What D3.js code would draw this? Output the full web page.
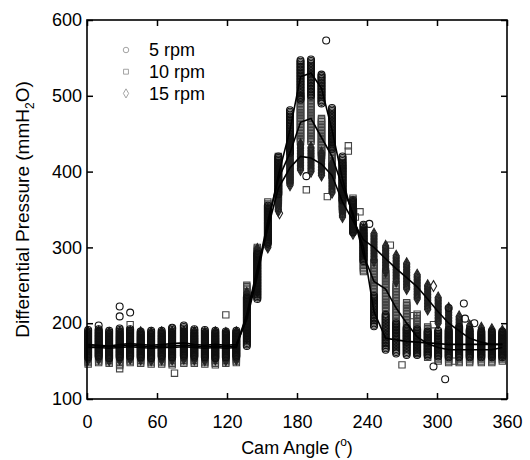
<!DOCTYPE html>
<html>
<head>
<meta charset="utf-8">
<script src="https://cdn.jsdelivr.net/npm/d3@7"></script>
<style>
    body { margin: 0; background: #fff; }
    text { font-family: "Liberation Sans", Arial, sans-serif; }
</style>
</head>
<body>
<div id="chart"></div>
<script>

// cam angle of each measurement column (deg)
const angles = [1, 10, 19, 28, 37, 46, 55, 64, 73, 83, 92, 101, 110, 119, 128, 137, 146, 155, 164, 174,
    183, 192, 201, 210, 219, 228, 237, 246, 256, 265, 274, 283, 292, 301, 310, 319, 328, 338, 347, 356];

// 5 rpm: mean line, and lowest / highest reading in each column
const rpm5Mean = [172, 171, 170, 172, 173, 172, 171, 172, 173, 174, 172, 171, 172, 171, 172, 205, 262, 330, 395, 455,
    525, 530, 510, 455, 390, 340, 300, 215, 180, 178, 176, 175, 174, 173, 172, 172, 172, 172, 172, 172];
const rpm5Low = [155, 156, 154, 155, 156, 155, 154, 156, 155, 157, 156, 155, 154, 155, 156, 170, 232, 305, 370, 425,
    495, 500, 490, 430, 362, 320, 282, 196, 165, 160, 158, 158, 157, 156, 155, 155, 155, 155, 155, 155];
const rpm5High = [192, 192, 190, 193, 193, 190, 191, 190, 194, 197, 192, 191, 190, 190, 190, 235, 292, 355, 420, 482,
    548, 548, 528, 485, 420, 362, 330, 236, 212, 200, 195, 192, 190, 190, 192, 195, 192, 190, 190, 190];

// 10 rpm
const rpm10Mean = [168, 168, 167, 168, 169, 168, 167, 168, 168, 169, 168, 167, 168, 167, 168, 210, 268, 335, 390, 425,
    465, 470, 445, 420, 380, 345, 290, 255, 245, 220, 200, 182, 173, 168, 165, 165, 165, 165, 165, 168];
const rpm10Low = [146, 148, 147, 144, 148, 147, 146, 146, 145, 147, 147, 146, 145, 147, 148, 178, 236, 310, 360, 388,
    440, 440, 420, 395, 350, 325, 268, 230, 215, 190, 175, 160, 155, 150, 148, 148, 148, 148, 148, 150];
const rpm10High = [184, 188, 184, 185, 190, 184, 183, 184, 185, 186, 184, 183, 184, 183, 186, 250, 300, 360, 420, 455,
    500, 500, 470, 455, 410, 365, 320, 280, 268, 250, 228, 212, 196, 186, 186, 184, 182, 182, 182, 185];

// 15 rpm
const rpm15Mean = [170, 170, 169, 170, 171, 170, 169, 170, 170, 171, 170, 169, 170, 169, 170, 212, 272, 325, 378, 405,
    420, 418, 410, 395, 360, 335, 310, 300, 285, 272, 260, 248, 232, 215, 200, 190, 180, 175, 172, 172];
const rpm15Low = [152, 153, 151, 152, 153, 152, 151, 152, 152, 153, 152, 151, 152, 151, 152, 182, 242, 300, 348, 382,
    402, 400, 395, 372, 340, 318, 292, 282, 268, 255, 245, 232, 218, 200, 186, 175, 165, 160, 158, 158];
const rpm15High = [188, 189, 187, 188, 190, 188, 187, 188, 188, 190, 188, 187, 188, 187, 188, 240, 298, 350, 405, 440,
    436, 432, 425, 410, 385, 360, 325, 318, 302, 290, 280, 265, 250, 235, 220, 210, 198, 195, 192, 190];

// stray readings outside the columns [angle, pressure]
const rpm5Stray = [[28, 222], [28, 209], [37, 214], [10, 197], [73, 194], [205, 573], [188, 394], [242, 331],
    [323, 226], [324, 206], [307, 126], [297, 143], [332, 200], [310, 220]];
const rpm10Stray = [[119, 211], [75, 134], [37, 198], [28, 140], [188, 376], [206, 367], [224, 434], [224, 427],
    [234, 347], [230, 340], [260, 303], [280, 210], [270, 145], [297, 198], [315, 150]];
const rpm15Stray = [[297, 249], [165, 345], [219, 360]];

const xTicks = [0, 60, 120, 180, 240, 300, 360];
const yTicks = [100, 200, 300, 400, 500, 600];

let series = [
    {name: "5 rpm", mean: rpm5Mean, low: rpm5Low, high: rpm5High, stray: rpm5Stray, symbol: d3.symbolCircle, size: 38, color: "#111"},
    {name: "10 rpm", mean: rpm10Mean, low: rpm10Low, high: rpm10High, stray: rpm10Stray, symbol: d3.symbolSquare, size: 40, color: "#444"},
    {name: "15 rpm", mean: rpm15Mean, low: rpm15Low, high: rpm15High, stray: rpm15Stray, symbol: d3.symbolDiamond, size: 34, color: "#222"}
];

let width = 530, height = 460;
let margin = {left: 87, right: 23, top: 20, bottom: 61};

let svg = d3.select("#chart")
    .append("svg")
    .attr("width", width)
    .attr("height", height);

let xScale = d3.scaleLinear().domain([0, 360]).range([margin.left, width - margin.right]);
let yScale = d3.scaleLinear().domain([100, 600]).range([height - margin.bottom, margin.top]);

// each column holds many repeated readings; draw them stacked from low to high
let drawOrder = [series[1], series[2], series[0]];
drawOrder.forEach(s => {
    let pts = [];
    angles.forEach((a, i) => {
        for (let v = s.low[i]; v <= s.high[i]; v += 2) pts.push([a, v]);
    });
    s.stray.forEach(p => pts.push(p));

    svg.append("g")
        .selectAll("path")
        .data(pts)
        .enter()
        .append("path")
        .attr("d", d3.symbol().type(s.symbol).size(s.size))
        .attr("transform", d => `translate(${xScale(d[0])},${yScale(d[1])})`)
        .attr("fill", "none")
        .attr("stroke", s.color)
        .attr("stroke-width", 1.1);
});

// mean lines
let line = d3.line()
    .x((d, i) => xScale(angles[i]))
    .y(d => yScale(d));

series.forEach(s => {
    svg.append("path")
        .datum(s.mean)
        .attr("d", line)
        .attr("fill", "none")
        .attr("stroke", "#000")
        .attr("stroke-width", 1.6);
});

// axes, ticks pointing inward on all four sides
let plotH = height - margin.bottom;
let plotW = width - margin.right;

svg.append("g")
    .attr("transform", `translate(0,${plotH})`)
    .call(d3.axisBottom(xScale).tickValues(xTicks).tickSizeInner(-6).tickSizeOuter(0).tickPadding(16))
    .call(g => g.select(".domain").remove());

svg.append("g")
    .attr("transform", `translate(0,${margin.top})`)
    .call(d3.axisTop(xScale).tickValues(xTicks).tickSizeInner(-6).tickSizeOuter(0).tickFormat(""))
    .call(g => g.select(".domain").remove());

svg.append("g")
    .attr("transform", `translate(${margin.left},0)`)
    .call(d3.axisLeft(yScale).tickValues(yTicks).tickSizeInner(-6).tickSizeOuter(0).tickPadding(5))
    .call(g => g.select(".domain").remove());

svg.append("g")
    .attr("transform", `translate(${plotW},0)`)
    .call(d3.axisRight(yScale).tickValues(yTicks).tickSizeInner(-6).tickSizeOuter(0).tickFormat(""))
    .call(g => g.select(".domain").remove());

svg.selectAll(".tick line").attr("stroke", "#000").attr("stroke-width", 1.5);
svg.selectAll(".tick text")
    .attr("fill", "#000")
    .style("font-size", "18px")
    .style("font-family", "'Liberation Sans', Arial, sans-serif");

svg.append("rect")
    .attr("x", margin.left)
    .attr("y", margin.top)
    .attr("width", plotW - margin.left)
    .attr("height", plotH - margin.top)
    .attr("fill", "none")
    .attr("stroke", "#000")
    .attr("stroke-width", 1.6);

// axis titles
let xTitle = svg.append("text")
    .attr("x", (margin.left + plotW) / 2)
    .attr("y", 454)
    .attr("text-anchor", "middle")
    .style("font-size", "18px");
xTitle.append("tspan").text("Cam Angle (");
xTitle.append("tspan").attr("dy", -8).style("font-size", "12px").text("o");
xTitle.append("tspan").attr("dy", 8).text(")");

let yTitle = svg.append("text")
    .attr("transform", `translate(29,${(margin.top + plotH) / 2}) rotate(-90)`)
    .attr("text-anchor", "middle")
    .style("font-size", "19px");
yTitle.append("tspan").text("Differential Pressure (mmH");
yTitle.append("tspan").attr("dy", 5).style("font-size", "12px").text("2");
yTitle.append("tspan").attr("dy", -5).text("O)");

// legend
let legend = svg.append("g");
series.forEach((s, i) => {
    let ly = 50 + i * 21.7;
    legend.append("path")
        .attr("d", d3.symbol().type(s.symbol).size(24))
        .attr("transform", `translate(126,${ly})`)
        .attr("fill", "none")
        .attr("stroke", "#999")
        .attr("stroke-width", 0.9);
    legend.append("text")
        .attr("x", 149)
        .attr("y", ly)
        .attr("dy", "0.36em")
        .style("font-size", "18px")
        .text(s.name);
});

</script>
</body>
</html>
